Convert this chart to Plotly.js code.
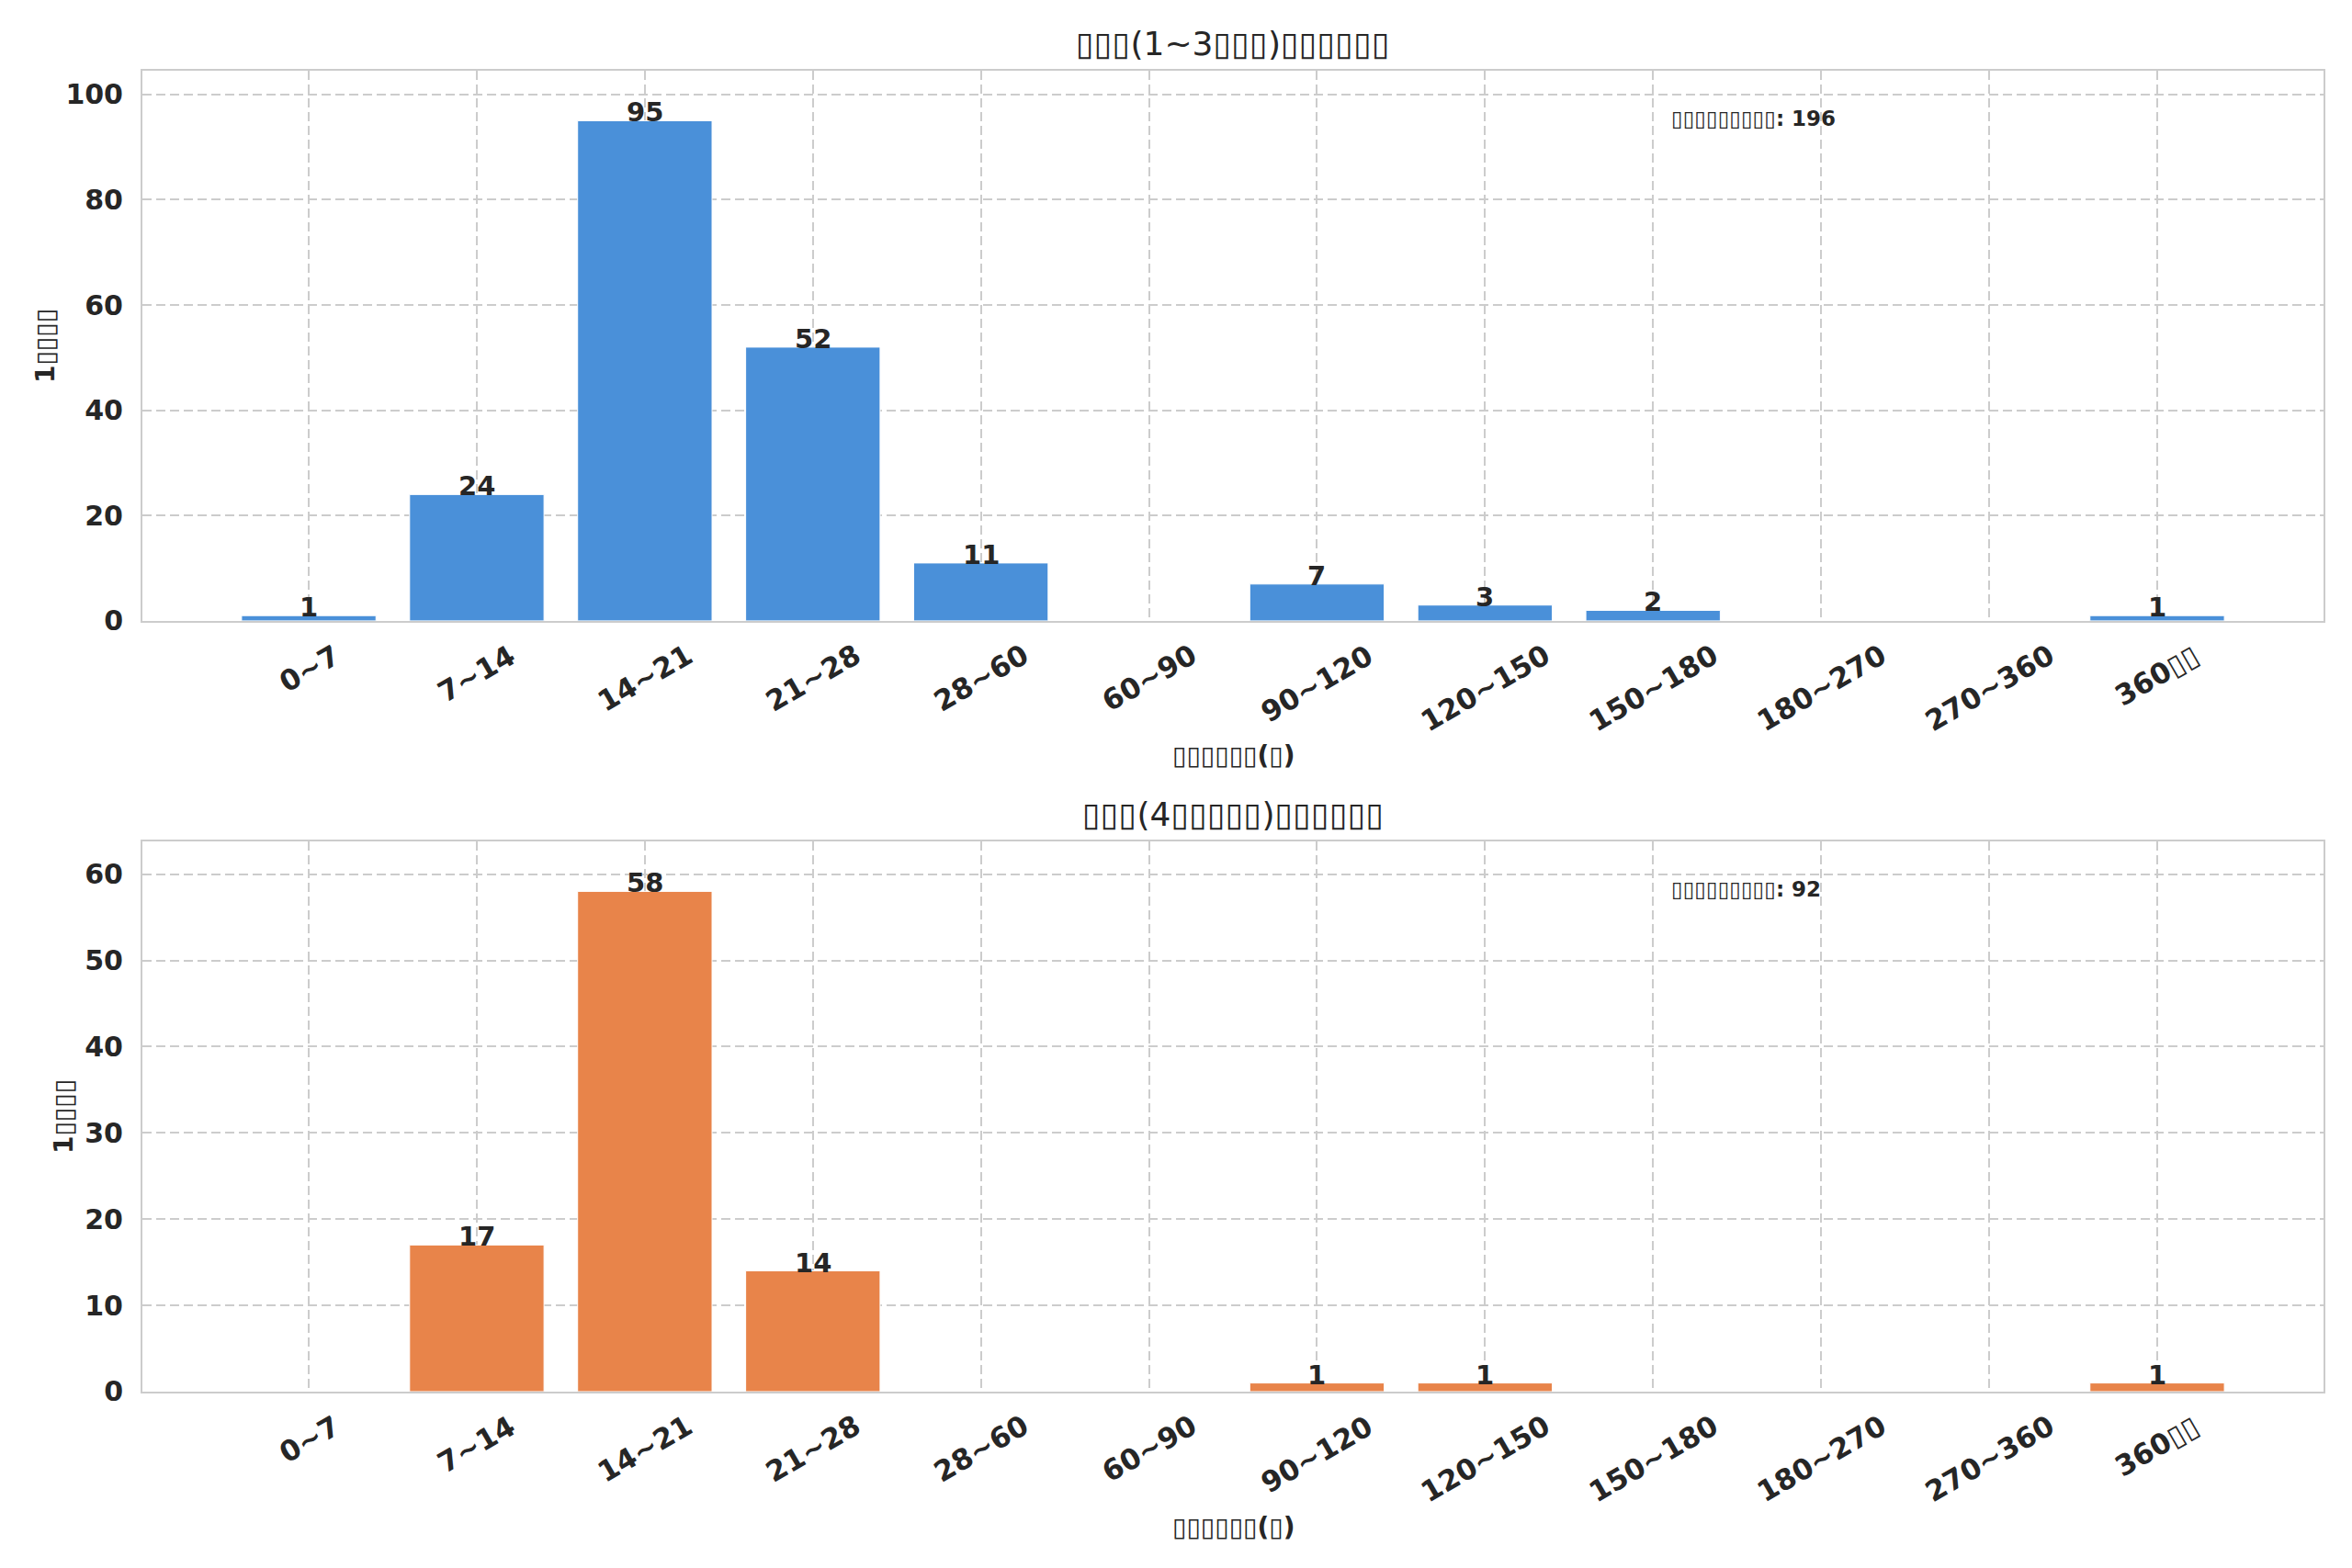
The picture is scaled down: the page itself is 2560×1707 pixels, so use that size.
<!DOCTYPE html>
<html>
<head>
<meta charset="utf-8">
<script src="https://cdn.plot.ly/plotly-3.0.1.min.js"></script>
<style>
  html, body { margin: 0; padding: 0; background: #ffffff; }
  #chart { width: 2560px; height: 1707px; }
</style>
</head>
<body>
<div id="chart"></div>
<script>
// Kategorien (Tage) – die CJK-Zeichen sind im Original als Tofu-Kästchen gerendert
const categories = ['0~7', '7~14', '14~21', '21~28', '28~60', '60~90',
  '90~120', '120~150', '150~180', '180~270', '270~360', '360▯▯'];

const countsA = [1, 24, 95, 52, 11, 0, 7, 3, 2, 0, 0, 1];
const countsB = [0, 17, 58, 14, 0, 0, 1, 1, 0, 0, 0, 1];

const titleA = '▯▯▯(1~3▯▯▯)▯▯▯▯▯▯';
const titleB = '▯▯▯(4▯▯▯▯▯)▯▯▯▯▯▯';
const xLabel = '▯▯▯▯▯▯(▯)';
const yLabel = '1▯▯▯▯';
const noteLabel = '▯▯▯▯▯▯▯▯▯';
const totalA = 196;
const totalB = 92;

const FONT = 'DejaVu Sans';
const TXT = '#262626';

// Hilfsfunktion: Achsen im seaborn-whitegrid-Stil
function xAxis(anchor) {
  return {
    type: 'category',
    anchor: anchor,
    range: [-0.99, 11.99],
    showticklabels: false,
    ticks: '',
    showgrid: true,
    gridcolor: '#cccccc',
    gridwidth: 2,
    griddash: '10px,5px',
    showline: true,
    mirror: true,
    linecolor: '#cccccc',
    linewidth: 2,
    zeroline: false,
    fixedrange: true
  };
}

function yAxis(anchor, domain, maxV, dtick) {
  return {
    anchor: anchor,
    domain: domain,
    range: [0, maxV * 1.1],
    dtick: dtick,
    ticks: '',
    ticklabelstandoff: 13,
    tickfont: { family: FONT, size: 30, color: TXT, weight: 'bold' },
    showgrid: true,
    gridcolor: '#cccccc',
    gridwidth: 2,
    griddash: '10px,5px',
    showline: true,
    mirror: true,
    linecolor: '#cccccc',
    linewidth: 2,
    zeroline: false,
    title: { text: yLabel, font: { family: FONT, size: 28, color: TXT, weight: 'bold' }, standoff: 4 }
  };
}

function barTrace(vals, color, xa, ya) {
  return {
    type: 'bar',
    x: categories,
    y: vals,
    xaxis: xa,
    yaxis: ya,
    width: 0.8,
    marker: { color: color, line: { color: '#ffffff', width: 1 } },
    hoverinfo: 'skip',
    showlegend: false
  };
}

// Beschriftungen: Werte über den Balken, gedrehte Kategorien, Titel, Hinweis
function annotationsFor(vals, xr, yr, title, total) {
  const out = [];
  vals.forEach((v, i) => {
    if (v > 0) {
      out.push({
        xref: xr, yref: yr, x: categories[i], y: v,
        text: String(v), showarrow: false,
        xanchor: 'center', yanchor: 'bottom', yshift: -10,
        font: { family: FONT, size: 29, color: TXT, weight: 'bold' }
      });
    }
  });
  categories.forEach(c => {
    out.push({
      xref: xr, yref: yr, x: c, y: 0,
      text: c, showarrow: false, textangle: -30,
      xanchor: 'center', yanchor: 'top', yshift: -16,
      font: { family: FONT, size: 31, color: TXT, weight: 'bold' }
    });
  });
  out.push({
    xref: xr + ' domain', yref: yr + ' domain', x: 0.5, y: 1,
    text: title, showarrow: false, xanchor: 'center', yanchor: 'bottom', yshift: 7,
    font: { family: FONT, size: 36, color: TXT }
  });
  out.push({
    xref: xr + ' domain', yref: yr + ' domain', x: 0.5, y: 0,
    text: xLabel, showarrow: false, xanchor: 'center', yanchor: 'middle', yshift: -147,
    font: { family: FONT, size: 28, color: TXT, weight: 'bold' }
  });
  out.push({
    xref: xr + ' domain', yref: yr + ' domain', x: 0.7, y: 0.913,
    text: noteLabel + ': ' + total, showarrow: false, xanchor: 'left', yanchor: 'middle',
    font: { family: FONT, size: 23, color: TXT, weight: 'bold' }
  });
  return out;
}

const traces = [
  barTrace(countsA, '#4a90d9', 'x', 'y'),
  barTrace(countsB, '#e8844a', 'x2', 'y2')
];

const layout = {
  width: 2560,
  height: 1707,
  paper_bgcolor: '#ffffff',
  plot_bgcolor: '#ffffff',
  margin: { l: 155, r: 31, t: 77, b: 192 },
  bargap: 0.2,
  xaxis: xAxis('y'),
  yaxis: yAxis('x', [0.5835, 1], 95, 20),
  xaxis2: xAxis('y2'),
  yaxis2: yAxis('x2', [0, 0.4166], 58, 10),
  annotations: annotationsFor(countsA, 'x', 'y', titleA, totalA)
    .concat(annotationsFor(countsB, 'x2', 'y2', titleB, totalB))
};

Plotly.newPlot('chart', traces, layout, { displayModeBar: false, staticPlot: true });
</script>
</body>
</html>
